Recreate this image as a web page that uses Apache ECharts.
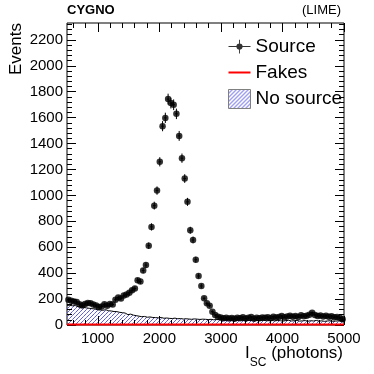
<!DOCTYPE html>
<html>
<head>
<meta charset="utf-8"/>
<title>CYGNO LIME</title>
<script src="https://cdn.jsdelivr.net/npm/echarts@6/dist/echarts.min.js"></script>
<style>html,body{margin:0;padding:0;background:#fff}</style>
</head>
<body>
<div id="main" style="width:374px;height:374px;"></div>
<script type="text/javascript">
// histogram binning (I_SC in photons)
var binStart = 500;
var binWidth = 45;

// events per bin
var source = [195,188,182,178,160,150,162,170,168,158,150,138,142,160,148,162,158,195,212,205,
    228,235,248,268,282,345,335,420,462,612,757,921,1037,1259,1534,1598,1743,1712,1699,1629,
    1459,1287,1130,950,731,656,504,378,301,206,167,149,103,77,64,58,52,55,50,54,
    48,56,52,60,50,55,62,48,56,52,58,55,60,52,64,58,62,70,60,66,
    72,64,70,62,75,68,72,80,95,78,70,74,66,72,64,68,60,62,55,45];
var noSource = [152,148,150,141,138,136,132,129,126,124,118,116,114,118,110,108,104,103,98,95,
    92,80,84,76,72,68,64,66,60,62,58,57,55,58,52,54,51,50,53,48,
    50,46,48,46,44,47,45,43,45,44,42,44,40,42,41,40,38,42,37,40,
    36,39,37,35,38,34,36,38,33,35,37,32,34,36,31,35,33,30,34,36,
    31,33,35,30,32,34,29,33,31,35,30,32,28,31,33,29,30,32,28,30];
var fakes = [4,3,4,4,3,4,3,3,4,3,3,4,3,3,3,4,3,3,3,3,
    3,3,3,3,3,3,3,3,3,3,3,3,3,3,3,3,3,3,3,3,
    3,3,3,3,3,3,3,3,3,3,3,3,3,3,3,3,3,3,3,3,
    3,3,3,3,3,3,3,3,3,3,3,3,3,3,3,3,3,3,3,3,
    3,3,3,3,3,3,3,3,3,3,3,3,3,3,3,3,3,3,3,3];

var xMajor = [1000, 2000, 3000, 4000, 5000];
var yMajor = [0, 200, 400, 600, 800, 1000, 1200, 1400, 1600, 1800, 2000, 2200];
var xMinor = [];
for (var v = 600; v <= 5000; v += 200) xMinor.push(v);
var yMinor = [];
for (var w = 0; w <= 2320; w += 40) yMinor.push(w);

var FONT = '"Liberation Sans", Arial, Helvetica, sans-serif';
var HATCH = '#5a5ae4';

// hatch tile for the legend box
var hatch = document.createElement('canvas');
hatch.width = 4; hatch.height = 4;
var hc = hatch.getContext('2d');
hc.strokeStyle = '#4040dc';
hc.lineWidth = 1;
hc.beginPath();
hc.moveTo(0, 4); hc.lineTo(4, 0);
hc.moveTo(-1, 1); hc.lineTo(1, -1);
hc.moveTo(3, 5); hc.lineTo(5, 3);
hc.stroke();
var hatchFill = {image: hatch, repeat: 'repeat'};

function histSteps(vals) {
    var d = [];
    for (var i = 0; i < vals.length; i++) d.push([binStart + i * binWidth, vals[i]]);
    d.push([binStart + vals.length * binWidth, vals[vals.length - 1]]);
    return d;
}
var bins = noSource.map(function (n, i) {
    return [binStart + i * binWidth, binStart + (i + 1) * binWidth, n];
});
var points = source.map(function (n, i) {
    return [binStart + (i + 0.5) * binWidth, n, Math.sqrt(n)];
});

function renderErr(params, api) {
    var x = api.value(0), y = api.value(1), e = api.value(2);
    var t = api.coord([x, y + e]), b = api.coord([x, y - e]);
    var l = api.coord([x - binWidth / 2, y]), r = api.coord([x + binWidth / 2, y]);
    return {type: 'group', children: [
        {type: 'line', shape: {x1: t[0], y1: t[1], x2: b[0], y2: b[1]}, style: {stroke: '#000', lineWidth: 1}},
        {type: 'line', shape: {x1: l[0], y1: l[1], x2: r[0], y2: r[1]}, style: {stroke: '#000', lineWidth: 1}}
    ]};
}

function tickAxis(pos, isX, values, len, labels) {
    var ax = {
        type: 'value', position: pos,
        min: isX ? 500 : 0, max: isX ? 5000 : 2330,
        axisLine: {show: false, onZero: false},
        splitLine: {show: false},
        axisTick: {show: true, inside: true, length: len, customValues: values, lineStyle: {color: '#000', width: 1}},
        axisLabel: {show: false}
    };
    if (labels) {
        ax.axisLabel = {show: true, customValues: values, color: '#000', fontSize: 15, fontFamily: FONT,
            margin: isX ? 6 : 4, formatter: function (val) { return String(val); }};
    }
    return ax;
}

var yLeft = tickAxis('left', false, yMajor, 9, true);
yLeft.name = 'Events';
yLeft.nameLocation = 'end';
yLeft.nameGap = 0;
yLeft.nameRotate = 90;
yLeft.nameTextStyle = {fontSize: 17, fontFamily: FONT, color: '#000', align: 'right', verticalAlign: 'bottom', padding: [0, 0, 42, 0]};

var chart = echarts.init(document.getElementById('main'));
chart.setOption({
    animation: false,
    backgroundColor: '#fff',
    title: [
        {text: 'CYGNO', left: 67, top: 4, padding: 0, textStyle: {fontSize: 13, fontWeight: 'bold', fontFamily: FONT, color: '#000'}},
        {text: '(LIME)', right: 33, top: 4, padding: 0, textStyle: {fontSize: 13, fontWeight: 'normal', fontFamily: FONT, color: '#000'}},
        {text: '{a|I}{b|SC}{a| (photons)}', right: 31, top: 345, padding: 0,
            textStyle: {fontWeight: 'normal', rich: {
                a: {fontSize: 17, fontWeight: 'normal', fontFamily: FONT, color: '#000', lineHeight: 17, verticalAlign: 'top'},
                b: {fontSize: 12, fontWeight: 'normal', fontFamily: FONT, color: '#000', lineHeight: 12, padding: [12, 0, 0, 0], verticalAlign: 'top'}
            }}}
    ],
    legend: {
        orient: 'vertical', left: 228, top: 37, padding: 0,
        itemWidth: 22, itemHeight: 19, itemGap: 7,
        textStyle: {fontSize: 19, fontFamily: FONT, color: '#000'},
        selectedMode: false,
        data: [
            {name: 'Source', icon: 'path://M0,7 L24,7 L24,8 L0,8 Z M11.5,0 L12.5,0 L12.5,15 L11.5,15 Z M8.6,7.5 A3.4,3.4 0 1,1 15.4,7.5 A3.4,3.4 0 1,1 8.6,7.5 Z', itemStyle: {color: '#000', borderWidth: 0}},
            {name: 'Fakes', icon: 'path://M0,0 L22,0 L22,2 L0,2 Z', itemStyle: {color: '#ff0000', borderWidth: 0}},
            {name: 'No source', icon: 'rect', itemStyle: {color: hatchFill, borderColor: '#808080', borderWidth: 1}}
        ]
    },
    grid: {left: 67, right: 30, top: 23, bottom: 49, show: true, borderColor: '#000', borderWidth: 1,
        backgroundColor: 'transparent', containLabel: false, outerBoundsMode: 'none'},
    xAxis: [
        tickAxis('bottom', true, xMajor, 9, true),
        tickAxis('bottom', true, xMinor, 5, false),
        tickAxis('top', true, xMajor, 9, false),
        tickAxis('top', true, xMinor, 5, false)
    ],
    yAxis: [
        yLeft,
        tickAxis('left', false, yMinor, 5, false),
        tickAxis('right', false, yMajor, 9, false),
        tickAxis('right', false, yMinor, 5, false)
    ],
    series: [
        {
            name: 'No source', type: 'line', step: 'end', data: histSteps(noSource),
            symbol: 'none', lineStyle: {color: '#000', width: 1}
        },
        {
            name: 'Fakes', type: 'line', step: 'end', data: histSteps(fakes),
            symbol: 'none', color: '#ff0000',
            lineStyle: {color: '#ff0000', width: 2}
        },
        {
            name: 'Source errors', type: 'custom', renderItem: renderErr, data: points,
            clip: true, encode: {x: 0, y: 1}
        },
        {
            name: 'Source', type: 'scatter', data: points, symbol: 'circle', symbolSize: 6.5,
            itemStyle: {color: '#000'}, clip: true
        }
    ]
});

// /// hatching under the "No source" bins, 4px pitch, placed through the axes' scales
var finder = {xAxisIndex: 0, yAxisIndex: 0};
var hatchLines = [];
bins.forEach(function (bn) {
    var a = chart.convertToPixel(finder, [bn[0], bn[2]]);
    var b = chart.convertToPixel(finder, [bn[1], 0]);
    var x0 = a[0], x1 = b[0], y0 = a[1], y1 = b[1];
    for (var c = Math.ceil((x0 + y0) / 4) * 4; c <= x1 + y1; c += 4) {
        var xa = Math.max(x0, c - y1), xb = Math.min(x1, c - y0);
        if (xb <= xa) continue;
        hatchLines.push({type: 'line', silent: true,
            shape: {x1: xa, y1: c - xa, x2: xb, y2: c - xb},
            style: {stroke: HATCH, lineWidth: 1}});
    }
});
chart.setOption({graphic: [{type: 'group', z: 1, silent: true, children: hatchLines}]});
</script>
</body>
</html>
